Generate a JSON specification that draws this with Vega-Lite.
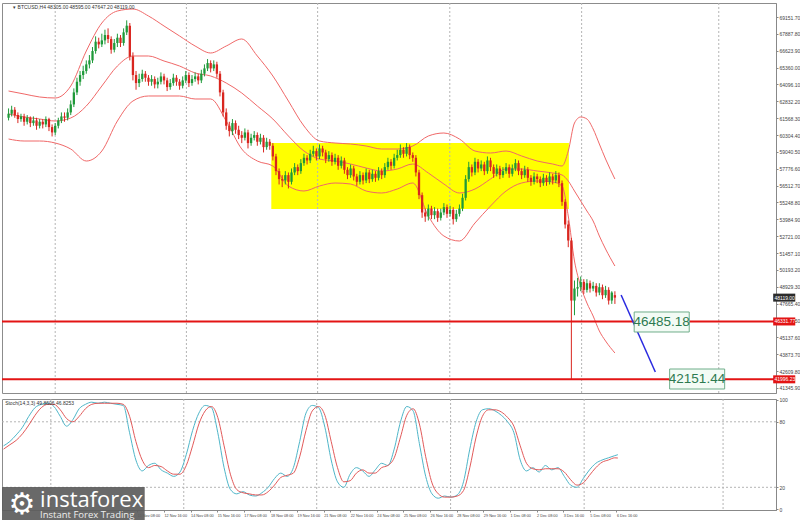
{
"$schema": "https://vega.github.io/schema/vega-lite/v6.json",
"padding": {"left": 0, "top": 2, "right": 0, "bottom": 0},
"background": "white",
"spacing": 3,
"config": {"view": {"stroke": "#8c8c8c"}, "axis": {"labelFont": "Liberation Sans", "labelFontSize": 5, "labelColor": "#444", "tickColor": "#888", "domainColor": "#888", "tickSize": 2, "labelPadding": 1, "grid": false, "labelOverlap": false, "labelBound": false, "labelFlush": false}},
"datasets": {
"candles": [
{"i":0,"o":61600,"h":62300,"l":61400,"c":61900},{"i":1,"o":61900,"h":62500,"l":61700,"c":62200},{"i":2,"o":62200,"h":62400,"l":61600,"c":61800},{"i":3,"o":61800,"h":62000,"l":61200,"c":61500},{"i":4,"o":61500,"h":61900,"l":61300,"c":61700},{"i":5,"o":61700,"h":61900,"l":61000,"c":61300},{"i":6,"o":61300,"h":61800,"l":61100,"c":61600},{"i":7,"o":61600,"h":61700,"l":60900,"c":61200},{"i":8,"o":61200,"h":61700,"l":61000,"c":61400},{"i":9,"o":61400,"h":61600,"l":60700,"c":61000},
{"i":10,"o":61000,"h":61500,"l":60800,"c":61300},{"i":11,"o":61300,"h":61500,"l":60800,"c":61100},{"i":12,"o":61100,"h":61700,"l":60900,"c":61500},{"i":13,"o":61500,"h":61600,"l":60600,"c":60900},{"i":14,"o":60900,"h":61100,"l":60200,"c":60500},{"i":15,"o":60500,"h":61200,"l":60300,"c":61000},{"i":16,"o":61000,"h":61600,"l":60800,"c":61400},{"i":17,"o":61400,"h":62000,"l":61200,"c":61700},{"i":18,"o":61700,"h":62000,"l":61300,"c":61600},{"i":19,"o":61600,"h":62300,"l":61400,"c":62000},
{"i":20,"o":62000,"h":62900,"l":61800,"c":62600},{"i":21,"o":62600,"h":63800,"l":62400,"c":63500},{"i":22,"o":63500,"h":64600,"l":63300,"c":64300},{"i":23,"o":64300,"h":65100,"l":64000,"c":64800},{"i":24,"o":64800,"h":65500,"l":64500,"c":65100},{"i":25,"o":65100,"h":65900,"l":64900,"c":65600},{"i":26,"o":65600,"h":66300,"l":65300,"c":65900},{"i":27,"o":65900,"h":66900,"l":65700,"c":66600},{"i":28,"o":66600,"h":67700,"l":66400,"c":67300},{"i":29,"o":67300,"h":67600,"l":66800,"c":67100},
{"i":30,"o":67100,"h":67900,"l":66900,"c":67400},{"i":31,"o":67400,"h":68200,"l":67100,"c":67800},{"i":32,"o":67800,"h":68300,"l":67200,"c":67500},{"i":33,"o":67500,"h":67700,"l":66400,"c":66700},{"i":34,"o":66700,"h":67500,"l":66500,"c":67200},{"i":35,"o":67200,"h":67900,"l":66900,"c":67600},{"i":36,"o":67600,"h":67800,"l":66900,"c":67200},{"i":37,"o":67200,"h":68300,"l":67000,"c":68000},{"i":38,"o":68000,"h":68900,"l":67800,"c":68500},{"i":39,"o":68500,"h":68700,"l":65900,"c":66200},
{"i":40,"o":66200,"h":66500,"l":64400,"c":64800},{"i":41,"o":64800,"h":65100,"l":63700,"c":64200},{"i":42,"o":64200,"h":64900,"l":63900,"c":64500},{"i":43,"o":64500,"h":65200,"l":64300,"c":64900},{"i":44,"o":64900,"h":65100,"l":64300,"c":64600},{"i":45,"o":64600,"h":64800,"l":64000,"c":64300},{"i":46,"o":64300,"h":64800,"l":64000,"c":64500},{"i":47,"o":64500,"h":64700,"l":63800,"c":64100},{"i":48,"o":64100,"h":64600,"l":63800,"c":64300},{"i":49,"o":64300,"h":65000,"l":64100,"c":64700},
{"i":50,"o":64700,"h":64900,"l":64100,"c":64400},{"i":51,"o":64400,"h":64600,"l":63600,"c":63900},{"i":52,"o":63900,"h":64500,"l":63700,"c":64200},{"i":53,"o":64200,"h":64900,"l":64000,"c":64600},{"i":54,"o":64600,"h":64800,"l":64000,"c":64300},{"i":55,"o":64300,"h":64500,"l":63700,"c":64000},{"i":56,"o":64000,"h":64700,"l":63800,"c":64400},{"i":57,"o":64400,"h":65100,"l":64200,"c":64800},{"i":58,"o":64800,"h":65000,"l":63900,"c":64200},{"i":59,"o":64200,"h":64800,"l":64000,"c":64500},
{"i":60,"o":64500,"h":65000,"l":64300,"c":64700},{"i":61,"o":64700,"h":64900,"l":64100,"c":64400},{"i":62,"o":64400,"h":65200,"l":64200,"c":64900},{"i":63,"o":64900,"h":65600,"l":64700,"c":65300},{"i":64,"o":65300,"h":66000,"l":65100,"c":65700},{"i":65,"o":65700,"h":65900,"l":65000,"c":65300},{"i":66,"o":65300,"h":65900,"l":65100,"c":65600},{"i":67,"o":65600,"h":65800,"l":64600,"c":64900},{"i":68,"o":64900,"h":65100,"l":63200,"c":63500},{"i":69,"o":63500,"h":63700,"l":61700,"c":62000},
{"i":70,"o":62000,"h":62300,"l":60700,"c":61000},{"i":71,"o":61000,"h":61300,"l":60200,"c":60600},{"i":72,"o":60600,"h":61500,"l":60300,"c":61200},{"i":73,"o":61200,"h":61400,"l":60400,"c":60700},{"i":74,"o":60700,"h":61000,"l":60000,"c":60300},{"i":75,"o":60300,"h":60600,"l":59700,"c":60100},{"i":76,"o":60100,"h":60800,"l":59900,"c":60500},{"i":77,"o":60500,"h":60700,"l":59300,"c":59700},{"i":78,"o":59700,"h":60400,"l":59500,"c":60100},{"i":79,"o":60100,"h":60600,"l":59900,"c":60300},
{"i":80,"o":60300,"h":60500,"l":59500,"c":59800},{"i":81,"o":59800,"h":60400,"l":59600,"c":60100},{"i":82,"o":60100,"h":60300,"l":59000,"c":59400},{"i":83,"o":59400,"h":60100,"l":59200,"c":59800},{"i":84,"o":59800,"h":60000,"l":59200,"c":59500},{"i":85,"o":59500,"h":59700,"l":58400,"c":58700},{"i":86,"o":58700,"h":58900,"l":57300,"c":57600},{"i":87,"o":57600,"h":57800,"l":56600,"c":57000},{"i":88,"o":57000,"h":57300,"l":56400,"c":56900},{"i":89,"o":56900,"h":57600,"l":56600,"c":57300},
{"i":90,"o":57300,"h":57500,"l":56300,"c":56800},{"i":91,"o":56800,"h":57800,"l":56600,"c":57500},{"i":92,"o":57500,"h":58200,"l":57300,"c":57900},{"i":93,"o":57900,"h":58100,"l":57300,"c":57600},{"i":94,"o":57600,"h":58500,"l":57400,"c":58200},{"i":95,"o":58200,"h":58900,"l":58000,"c":58600},{"i":96,"o":58600,"h":58800,"l":58100,"c":58400},{"i":97,"o":58400,"h":59200,"l":58200,"c":58900},{"i":98,"o":58900,"h":59500,"l":58700,"c":59100},{"i":99,"o":59100,"h":59300,"l":58400,"c":58700},
{"i":100,"o":58700,"h":59600,"l":58500,"c":59300},{"i":101,"o":59300,"h":59500,"l":58700,"c":59000},{"i":102,"o":59000,"h":59200,"l":58200,"c":58500},{"i":103,"o":58500,"h":59100,"l":58300,"c":58800},{"i":104,"o":58800,"h":59000,"l":58000,"c":58300},{"i":105,"o":58300,"h":58900,"l":58100,"c":58600},{"i":106,"o":58600,"h":58800,"l":57700,"c":58000},{"i":107,"o":58000,"h":58700,"l":57800,"c":58400},{"i":108,"o":58400,"h":58600,"l":57400,"c":57700},{"i":109,"o":57700,"h":57900,"l":57000,"c":57300},
{"i":110,"o":57300,"h":58100,"l":57100,"c":57800},{"i":111,"o":57800,"h":58000,"l":56900,"c":57200},{"i":112,"o":57200,"h":57400,"l":56500,"c":56800},{"i":113,"o":56800,"h":57600,"l":56600,"c":57300},{"i":114,"o":57300,"h":57500,"l":56600,"c":56900},{"i":115,"o":56900,"h":57800,"l":56700,"c":57500},{"i":116,"o":57500,"h":57700,"l":56700,"c":57000},{"i":117,"o":57000,"h":57700,"l":56800,"c":57400},{"i":118,"o":57400,"h":57600,"l":56800,"c":57100},{"i":119,"o":57100,"h":57900,"l":56900,"c":57600},
{"i":120,"o":57600,"h":57800,"l":57000,"c":57300},{"i":121,"o":57300,"h":58200,"l":57100,"c":57900},{"i":122,"o":57900,"h":58600,"l":57700,"c":58300},{"i":123,"o":58300,"h":58500,"l":57700,"c":58000},{"i":124,"o":58000,"h":58900,"l":57800,"c":58600},{"i":125,"o":58600,"h":59200,"l":58400,"c":58800},{"i":126,"o":58800,"h":59600,"l":58600,"c":59200},{"i":127,"o":59200,"h":59400,"l":58600,"c":58900},{"i":128,"o":58900,"h":59700,"l":58700,"c":59400},{"i":129,"o":59400,"h":59600,"l":58500,"c":58800},
{"i":130,"o":58800,"h":59000,"l":58300,"c":58600},{"i":131,"o":58600,"h":58800,"l":57200,"c":57500},{"i":132,"o":57500,"h":57700,"l":55500,"c":55800},{"i":133,"o":55800,"h":56000,"l":54100,"c":54500},{"i":134,"o":54500,"h":54800,"l":53800,"c":54200},{"i":135,"o":54200,"h":55100,"l":53900,"c":54800},{"i":136,"o":54800,"h":55000,"l":54000,"c":54300},{"i":137,"o":54300,"h":54900,"l":54000,"c":54600},{"i":138,"o":54600,"h":54800,"l":53800,"c":54100},{"i":139,"o":54100,"h":54800,"l":53900,"c":54500},
{"i":140,"o":54500,"h":55200,"l":54300,"c":54900},{"i":141,"o":54900,"h":55100,"l":54100,"c":54400},{"i":142,"o":54400,"h":55000,"l":54200,"c":54700},{"i":143,"o":54700,"h":54900,"l":53600,"c":54000},{"i":144,"o":54000,"h":54700,"l":53800,"c":54400},{"i":145,"o":54400,"h":55100,"l":54200,"c":54800},{"i":146,"o":54800,"h":55900,"l":54600,"c":55600},{"i":147,"o":55600,"h":57300,"l":55400,"c":57000},{"i":148,"o":57000,"h":58300,"l":56800,"c":57900},{"i":149,"o":57900,"h":58100,"l":57200,"c":57500},
{"i":150,"o":57500,"h":58600,"l":57300,"c":58300},{"i":151,"o":58300,"h":58500,"l":57500,"c":57800},{"i":152,"o":57800,"h":58400,"l":57600,"c":58100},{"i":153,"o":58100,"h":58300,"l":57300,"c":57600},{"i":154,"o":57600,"h":58700,"l":57400,"c":58400},{"i":155,"o":58400,"h":58600,"l":57600,"c":57900},{"i":156,"o":57900,"h":58100,"l":57100,"c":57400},{"i":157,"o":57400,"h":58100,"l":57200,"c":57800},{"i":158,"o":57800,"h":58000,"l":57000,"c":57300},{"i":159,"o":57300,"h":57900,"l":57100,"c":57600},
{"i":160,"o":57600,"h":58200,"l":57400,"c":57900},{"i":161,"o":57900,"h":58100,"l":57100,"c":57400},{"i":162,"o":57400,"h":58100,"l":57200,"c":57800},{"i":163,"o":57800,"h":58500,"l":57600,"c":58200},{"i":164,"o":58200,"h":58400,"l":57300,"c":57600},{"i":165,"o":57600,"h":57800,"l":57000,"c":57300},{"i":166,"o":57300,"h":58000,"l":57100,"c":57700},{"i":167,"o":57700,"h":57900,"l":56800,"c":57100},{"i":168,"o":57100,"h":57300,"l":56500,"c":56800},{"i":169,"o":56800,"h":57500,"l":56600,"c":57200},
{"i":170,"o":57200,"h":57400,"l":56700,"c":57000},{"i":171,"o":57000,"h":57200,"l":56400,"c":56700},{"i":172,"o":56700,"h":57400,"l":56500,"c":57100},{"i":173,"o":57100,"h":57300,"l":56500,"c":56800},{"i":174,"o":56800,"h":57500,"l":56600,"c":57200},{"i":175,"o":57200,"h":57400,"l":56600,"c":56900},{"i":176,"o":56900,"h":57600,"l":56700,"c":57300},{"i":177,"o":57300,"h":57500,"l":56400,"c":56700},{"i":178,"o":56700,"h":56900,"l":55000,"c":55300},{"i":179,"o":55300,"h":55500,"l":53300,"c":53600},
{"i":180,"o":53600,"h":53900,"l":51900,"c":52400},{"i":181,"o":52400,"h":52600,"l":41996,"c":47900},{"i":182,"o":47900,"h":49400,"l":46800,"c":48800},{"i":183,"o":48800,"h":49600,"l":48200,"c":48900},{"i":184,"o":48900,"h":49700,"l":48600,"c":49300},{"i":185,"o":49300,"h":49500,"l":48400,"c":48700},{"i":186,"o":48700,"h":49500,"l":48500,"c":49200},{"i":187,"o":49200,"h":49400,"l":48500,"c":48800},{"i":188,"o":48800,"h":49300,"l":48600,"c":49000},{"i":189,"o":49000,"h":49200,"l":48200,"c":48500},
{"i":190,"o":48500,"h":49200,"l":48300,"c":48900},{"i":191,"o":48900,"h":49100,"l":48000,"c":48300},{"i":192,"o":48300,"h":49000,"l":48100,"c":48700},{"i":193,"o":48700,"h":48900,"l":47600,"c":47900},{"i":194,"o":47900,"h":48600,"l":47650,"c":48500},{"i":195,"o":48305,"h":48595,"l":47647,"c":48119}
],
"bands": [
{"i":0,"u":63605,"m":61882,"lo":60008},{"i":5,"u":63381,"m":61657,"lo":59858},{"i":10,"u":63156,"m":61507,"lo":59858},{"i":15,"u":63081,"m":61357,"lo":59708},{"i":20,"u":63980,"m":61582,"lo":59258},{"i":25,"u":66603,"m":62481,"lo":58359},{"i":30,"u":68702,"m":63980,"lo":59108},{"i":35,"u":69601,"m":65479,"lo":61357},{"i":40,"u":69751,"m":66229,"lo":62856},{"i":45,"u":69227,"m":66229,"lo":63231},{"i":50,"u":68477,"m":65854,"lo":63231},{"i":55,"u":67728,"m":65479,"lo":63231},{"i":60,"u":66978,"m":64955,"lo":63006},{"i":65,"u":66454,"m":64730,"lo":63006},{"i":70,"u":66978,"m":64205,"lo":61357},{"i":75,"u":67503,"m":63455,"lo":59258},{"i":80,"u":66229,"m":62481,"lo":58359},{"i":85,"u":64730,"m":61507,"lo":57984},{"i":90,"u":62856,"m":60233,"lo":56485},{"i":95,"u":60982,"m":59108,"lo":56110},{"i":100,"u":59858,"m":58509,"lo":56485},{"i":105,"u":59708,"m":58359,"lo":56710},{"i":110,"u":59633,"m":58134,"lo":56635},{"i":115,"u":59483,"m":57834,"lo":56110},{"i":120,"u":59258,"m":57609,"lo":55961},{"i":125,"u":59258,"m":57759,"lo":56260},{"i":130,"u":59483,"m":58134,"lo":56710},{"i":135,"u":60233,"m":57459,"lo":54237},{"i":140,"u":60457,"m":56635,"lo":52738},{"i":145,"u":60008,"m":55961,"lo":52363},{"i":150,"u":59108,"m":56260,"lo":53712},{"i":155,"u":58958,"m":57010,"lo":54986},{"i":160,"u":59108,"m":57759,"lo":56110},{"i":165,"u":58734,"m":57759,"lo":56710},{"i":170,"u":58359,"m":57609,"lo":56860},{"i":175,"u":58134,"m":57459,"lo":56785},{"i":178,"u":57984,"m":57310,"lo":56485},{"i":180,"u":59108,"m":56860,"lo":54237},{"i":182,"u":61207,"m":56110,"lo":50864},{"i":184,"u":61657,"m":55361,"lo":48990},{"i":186,"u":61507,"m":54611,"lo":47716},{"i":188,"u":60757,"m":53862,"lo":46741},{"i":190,"u":59633,"m":52738,"lo":45617},{"i":192,"u":58509,"m":51763,"lo":44868},{"i":195,"u":57010,"m":50489,"lo":43969}
],
"stoch": [
{"i":0,"k":58,"d":55},{"i":2,"k":62,"d":59},{"i":4,"k":68,"d":63},{"i":6,"k":75,"d":69},{"i":8,"k":85,"d":77},{"i":10,"k":93,"d":86},{"i":12,"k":96,"d":93},{"i":14,"k":97,"d":96},{"i":16,"k":94,"d":96},{"i":18,"k":85,"d":91},{"i":20,"k":76,"d":83},{"i":22,"k":82,"d":80},{"i":24,"k":92,"d":85},{"i":26,"k":96,"d":92},{"i":28,"k":98,"d":96},{"i":30,"k":97,"d":97},{"i":32,"k":98,"d":97},{"i":34,"k":97,"d":97},{"i":36,"k":96,"d":97},{"i":38,"k":95,"d":96},{"i":40,"k":70,"d":85},{"i":42,"k":45,"d":62},{"i":44,"k":35,"d":45},{"i":46,"k":40,"d":38},{"i":48,"k":42,"d":40},{"i":50,"k":36,"d":39},{"i":52,"k":33,"d":35},{"i":54,"k":30,"d":32},{"i":56,"k":34,"d":32},{"i":58,"k":50,"d":40},{"i":60,"k":72,"d":58},{"i":62,"k":88,"d":78},{"i":64,"k":95,"d":90},{"i":66,"k":93,"d":94},{"i":68,"k":70,"d":84},{"i":70,"k":38,"d":58},{"i":72,"k":18,"d":32},{"i":74,"k":14,"d":18},{"i":76,"k":16,"d":15},{"i":78,"k":13,"d":14},{"i":80,"k":12,"d":13},{"i":82,"k":15,"d":13},{"i":84,"k":20,"d":16},{"i":86,"k":28,"d":22},{"i":88,"k":33,"d":29},{"i":90,"k":30,"d":31},{"i":92,"k":38,"d":33},{"i":94,"k":62,"d":48},{"i":96,"k":88,"d":72},{"i":98,"k":95,"d":90},{"i":100,"k":93,"d":94},{"i":102,"k":75,"d":86},{"i":104,"k":45,"d":62},{"i":106,"k":25,"d":38},{"i":108,"k":20,"d":25},{"i":110,"k":32,"d":26},{"i":112,"k":38,"d":33},{"i":114,"k":35,"d":36},{"i":116,"k":30,"d":33},{"i":118,"k":36,"d":33},{"i":120,"k":42,"d":38},{"i":122,"k":40,"d":40},{"i":124,"k":55,"d":47},{"i":126,"k":80,"d":66},{"i":128,"k":94,"d":86},{"i":130,"k":90,"d":92},{"i":132,"k":60,"d":78},{"i":134,"k":30,"d":48},{"i":136,"k":14,"d":24},{"i":138,"k":10,"d":14},{"i":140,"k":12,"d":11},{"i":142,"k":11,"d":11},{"i":144,"k":13,"d":12},{"i":146,"k":25,"d":17},{"i":148,"k":55,"d":38},{"i":150,"k":80,"d":66},{"i":152,"k":91,"d":85},{"i":154,"k":92,"d":91},{"i":156,"k":90,"d":91},{"i":158,"k":86,"d":89},{"i":160,"k":80,"d":84},{"i":162,"k":70,"d":76},{"i":164,"k":45,"d":58},{"i":166,"k":35,"d":42},{"i":168,"k":38,"d":37},{"i":170,"k":34,"d":36},{"i":172,"k":40,"d":37},{"i":174,"k":36,"d":37},{"i":176,"k":38,"d":37},{"i":178,"k":30,"d":34},{"i":180,"k":22,"d":27},{"i":182,"k":20,"d":22},{"i":184,"k":28,"d":24},{"i":186,"k":36,"d":31},{"i":188,"k":42,"d":38},{"i":190,"k":45,"d":43},{"i":192,"k":47,"d":45},{"i":194,"k":49,"d":47},{"i":195,"k":49.86,"d":46.83}
],
"vgrid": [{"i":15.0},{"i":57.2},{"i":99.4},{"i":141.9},{"i":184.3},{"i":228.4}],
"levels": [{"p":46331.77},{"p":41996.23}],
"zone": [{"i1":84.5,"i2":180.2,"p1":54761,"p2":59708}],
"trend": [{"i":197,"p":48315},{"i":208,"p":42544}],
"boxes": [{"i1":201.2,"i2":218.9,"p1":45543,"p2":47042,"ic":210,"pc":46292,"t":"46485.18"},{"i1":212.6,"i2":230.3,"p1":41270,"p2":42769,"ic":221.4,"pc":42020,"t":"42151.44"}],
"tags": [{"p":48119,"p1":47819,"p2":48419,"t":"48119.00","k":"price"},{"p":46331.77,"p1":46032,"p2":46632,"t":"46331.77","k":"level"},{"p":41996.23,"p1":41696,"p2":42296,"t":"41996.23","k":"level"}],
"hlines": [{"v":80},{"v":20}],
"one": [{}]
},
"vconcat": [
{
"width": 774, "height": 390,
"layer": [
{"data": {"name": "zone"}, "mark": {"type": "rect", "color": "#ffff00"},
 "encoding": {"x": {"field": "i1", "type": "quantitative", "scale": {"domain": [-0.5, 245.2], "nice": false, "zero": false}, "axis": null}, "x2": {"field": "i2"},
  "y": {"field": "p1", "type": "quantitative", "title": null, "scale": {"domain": [40971, 70201], "nice": false, "zero": false},
   "axis": {"orient": "right", "title": null, "values": [41345.9,42609.8,43873.7,45137.6,46401.5,47665.4,48929.3,50193.2,51457.1,52721.0,53984.9,55248.8,56512.7,57776.6,59040.5,60304.4,61568.3,62832.2,64096.1,65360.0,66623.9,67887.8,69151.7], "tickCount": 100, "format": ".2f", "labelOverlap": false, "labelFontSize": 5}},
  "y2": {"field": "p2"}}},
{"data": {"name": "vgrid"}, "mark": {"type": "rule", "color": "#b4b4b4", "strokeDash": [2, 2], "strokeWidth": 1},
 "encoding": {"x": {"field": "i", "type": "quantitative", "scale": {"domain": [-0.5, 245.2], "nice": false, "zero": false}, "axis": null}}},
{"data": {"name": "bands"}, "mark": {"type": "line", "color": "#f06868", "strokeWidth": 1, "interpolate": "monotone"},
 "encoding": {"x": {"field": "i", "type": "quantitative", "scale": {"domain": [-0.5, 245.2], "nice": false, "zero": false}, "axis": null}, "y": {"field": "u", "type": "quantitative", "title": null, "scale": {"domain": [40971, 70201], "nice": false, "zero": false}}}},
{"data": {"name": "bands"}, "mark": {"type": "line", "color": "#f06868", "strokeWidth": 1, "interpolate": "monotone"},
 "encoding": {"x": {"field": "i", "type": "quantitative", "scale": {"domain": [-0.5, 245.2], "nice": false, "zero": false}, "axis": null}, "y": {"field": "m", "type": "quantitative", "title": null, "scale": {"domain": [40971, 70201], "nice": false, "zero": false}}}},
{"data": {"name": "bands"}, "mark": {"type": "line", "color": "#f06868", "strokeWidth": 1, "interpolate": "monotone"},
 "encoding": {"x": {"field": "i", "type": "quantitative", "scale": {"domain": [-0.5, 245.2], "nice": false, "zero": false}, "axis": null}, "y": {"field": "lo", "type": "quantitative", "title": null, "scale": {"domain": [40971, 70201], "nice": false, "zero": false}}}},
{"data": {"name": "candles"}, "mark": {"type": "rule", "strokeWidth": 1},
 "encoding": {"x": {"field": "i", "type": "quantitative", "scale": {"domain": [-0.5, 245.2], "nice": false, "zero": false}, "axis": null},
  "y": {"field": "l", "type": "quantitative", "title": null, "scale": {"domain": [40971, 70201], "nice": false, "zero": false}}, "y2": {"field": "h"},
  "color": {"condition": {"test": "datum.c >= datum.o", "value": "#1f9a3a"}, "value": "#d9261f"}}},
{"data": {"name": "candles"}, "mark": {"type": "bar", "width": 2.3},
 "encoding": {"x": {"field": "i", "type": "quantitative", "scale": {"domain": [-0.5, 245.2], "nice": false, "zero": false}, "axis": null},
  "y": {"field": "o", "type": "quantitative", "title": null, "scale": {"domain": [40971, 70201], "nice": false, "zero": false}}, "y2": {"field": "c"},
  "color": {"condition": {"test": "datum.c >= datum.o", "value": "#1f9a3a"}, "value": "#d9261f"}}},
{"data": {"name": "levels"}, "mark": {"type": "rule", "color": "#e31414", "strokeWidth": 2},
 "encoding": {"y": {"field": "p", "type": "quantitative", "title": null, "scale": {"domain": [40971, 70201], "nice": false, "zero": false}}}},
{"data": {"name": "trend"}, "mark": {"type": "line", "color": "#2a2ae0", "strokeWidth": 1.5},
 "encoding": {"x": {"field": "i", "type": "quantitative", "scale": {"domain": [-0.5, 245.2], "nice": false, "zero": false}, "axis": null}, "y": {"field": "p", "type": "quantitative", "title": null, "scale": {"domain": [40971, 70201], "nice": false, "zero": false}}}},
{"data": {"name": "boxes"}, "mark": {"type": "rect", "fill": "#f3fbf5", "stroke": "#6fae8a", "strokeWidth": 1},
 "encoding": {"x": {"field": "i1", "type": "quantitative", "scale": {"domain": [-0.5, 245.2], "nice": false, "zero": false}, "axis": null}, "x2": {"field": "i2"},
  "y": {"field": "p1", "type": "quantitative", "title": null, "scale": {"domain": [40971, 70201], "nice": false, "zero": false}}, "y2": {"field": "p2"}}},
{"data": {"name": "boxes"}, "mark": {"type": "text", "font": "Liberation Sans", "fontSize": 13.5, "color": "#2d7a50", "align": "center", "baseline": "middle"},
 "encoding": {"x": {"field": "ic", "type": "quantitative", "scale": {"domain": [-0.5, 245.2], "nice": false, "zero": false}, "axis": null},
  "y": {"field": "pc", "type": "quantitative", "title": null, "scale": {"domain": [40971, 70201], "nice": false, "zero": false}}, "text": {"field": "t"}}},
{"data": {"name": "tags"}, "mark": {"type": "rect"},
 "encoding": {"x": {"datum": 245.9, "type": "quantitative", "scale": {"domain": [-0.5, 245.2], "nice": false, "zero": false}, "axis": null}, "x2": {"datum": 253.0},
  "y": {"field": "p1", "type": "quantitative", "title": null, "scale": {"domain": [40971, 70201], "nice": false, "zero": false}}, "y2": {"field": "p2"},
  "color": {"field": "k", "type": "nominal", "scale": {"domain": ["price", "level"], "range": ["#2b2b2b", "#e31414"]}, "legend": null}}},
{"data": {"name": "tags"}, "mark": {"type": "text", "font": "Liberation Sans", "fontSize": 5, "color": "white", "align": "left", "baseline": "middle"},
 "encoding": {"x": {"datum": 246.3, "type": "quantitative", "scale": {"domain": [-0.5, 245.2], "nice": false, "zero": false}, "axis": null},
  "y": {"field": "p", "type": "quantitative", "title": null, "scale": {"domain": [40971, 70201], "nice": false, "zero": false}}, "text": {"field": "t"}}},
{"data": {"name": "one"}, "mark": {"type": "text", "font": "Liberation Sans", "fontSize": 5, "color": "#333", "align": "left", "baseline": "middle"},
 "encoding": {"x": {"datum": 1.5, "type": "quantitative", "scale": {"domain": [-0.5, 245.2], "nice": false, "zero": false}, "axis": null},
  "y": {"datum": 69901, "type": "quantitative", "title": null, "scale": {"domain": [40971, 70201], "nice": false, "zero": false}},
  "text": {"value": "▾ BTCUSD,H4  48305.00 48595.00 47647.20 48119.00"}}}
]
},
{
"width": 774, "height": 111,
"layer": [
{"data": {"name": "vgrid"}, "mark": {"type": "rule", "color": "#b4b4b4", "strokeDash": [2, 2], "strokeWidth": 1},
 "encoding": {"x": {"field": "i", "type": "quantitative", "title": null, "scale": {"domain": [-0.5, 245.2], "nice": false, "zero": false},
  "axis": {"orient": "bottom", "title": null, "values": [42.45,50.9,59.35,67.8,76.25,84.7,93.15,101.6,110.05,118.5,126.95,135.4,143.85,152.3,160.75,169.2,177.65,186.1,194.55], "tickCount": 100,
   "labelExpr": "['3 Nov 16:00','5 Nov 08:00','6 Nov 16:00','8 Nov 08:00','9 Nov 16:00','11 Nov 08:00','12 Nov 16:00','14 Nov 08:00','15 Nov 16:00','17 Nov 08:00','18 Nov 08:00','19 Nov 16:00','21 Nov 08:00','22 Nov 16:00','24 Nov 08:00','25 Nov 08:00','26 Nov 16:00','28 Nov 08:00','29 Nov 16:00','1 Dec 08:00','2 Dec 08:00','3 Dec 16:00','5 Dec 08:00','6 Dec 16:00'][round((datum.value - 0.2) / 8.45)]",
   "labelAlign": "left", "labelFontSize": 3.8, "labelOverlap": false, "labelBound": false, "labelFlush": false, "tickSize": 2, "labelPadding": 1}}}},
{"data": {"name": "hlines"}, "mark": {"type": "rule", "color": "#b4b4b4", "strokeDash": [2, 2], "strokeWidth": 1},
 "encoding": {"y": {"field": "v", "type": "quantitative", "title": null, "scale": {"domain": [-0.8, 100.9], "nice": false, "zero": false},
  "axis": {"orient": "right", "title": null, "values": [0, 20, 80, 100], "tickCount": 20, "labelFontSize": 5, "labelOverlap": false}}}},
{"data": {"name": "stoch"}, "mark": {"type": "line", "color": "#4fb6c9", "strokeWidth": 1, "interpolate": "monotone"},
 "encoding": {"x": {"field": "i", "type": "quantitative", "title": null, "scale": {"domain": [-0.5, 245.2], "nice": false, "zero": false}}, "y": {"field": "k", "type": "quantitative", "title": null, "scale": {"domain": [-0.8, 100.9], "nice": false, "zero": false}}}},
{"data": {"name": "stoch"}, "mark": {"type": "line", "color": "#e25a5a", "strokeWidth": 1, "interpolate": "monotone"},
 "encoding": {"x": {"field": "i", "type": "quantitative", "title": null, "scale": {"domain": [-0.5, 245.2], "nice": false, "zero": false}}, "y": {"field": "d", "type": "quantitative", "title": null, "scale": {"domain": [-0.8, 100.9], "nice": false, "zero": false}}}},
{"data": {"name": "one"}, "mark": {"type": "text", "font": "Liberation Sans", "fontSize": 5, "color": "#333", "align": "left", "baseline": "middle"},
 "encoding": {"x": {"datum": 0.5, "type": "quantitative", "title": null, "scale": {"domain": [-0.5, 245.2], "nice": false, "zero": false}},
  "y": {"datum": 97.2, "type": "quantitative", "title": null, "scale": {"domain": [-0.8, 100.9], "nice": false, "zero": false}},
  "text": {"value": "Stoch(14,3,3) 49.8606 46.8253"}}},
{"data": {"name": "one"}, "mark": {"type": "rect", "color": "#5c5c5c", "opacity": 0.92},
 "encoding": {"x": {"datum": -0.5, "type": "quantitative", "title": null, "scale": {"domain": [-0.5, 245.2], "nice": false, "zero": false}}, "x2": {"datum": 44.8},
  "y": {"datum": 20.3, "type": "quantitative", "title": null, "scale": {"domain": [-0.8, 100.9], "nice": false, "zero": false}}, "y2": {"datum": -13.6}}},
{"data": {"name": "one"}, "mark": {"type": "text", "font": "DejaVu Sans", "fontSize": 30, "color": "white", "align": "center", "baseline": "middle"},
 "encoding": {"x": {"datum": 5.8, "type": "quantitative", "title": null, "scale": {"domain": [-0.5, 245.2], "nice": false, "zero": false}},
  "y": {"datum": 3.8, "type": "quantitative", "title": null, "scale": {"domain": [-0.8, 100.9], "nice": false, "zero": false}}, "text": {"value": "⚙"}}},
{"data": {"name": "one"}, "mark": {"type": "text", "font": "Open Sans", "fontSize": 22, "color": "white", "align": "left", "baseline": "middle"},
 "encoding": {"x": {"datum": 11.6, "type": "quantitative", "title": null, "scale": {"domain": [-0.5, 245.2], "nice": false, "zero": false}},
  "y": {"datum": 8.4, "type": "quantitative", "title": null, "scale": {"domain": [-0.8, 100.9], "nice": false, "zero": false}}, "text": {"value": "instaforex"}}},
{"data": {"name": "one"}, "mark": {"type": "text", "font": "Open Sans", "fontSize": 9.5, "color": "#eeeeee", "align": "left", "baseline": "middle"},
 "encoding": {"x": {"datum": 11.6, "type": "quantitative", "title": null, "scale": {"domain": [-0.5, 245.2], "nice": false, "zero": false}},
  "y": {"datum": -5.4, "type": "quantitative", "title": null, "scale": {"domain": [-0.8, 100.9], "nice": false, "zero": false}}, "text": {"value": "Instant Forex Trading"}}}
]
}
]
}
